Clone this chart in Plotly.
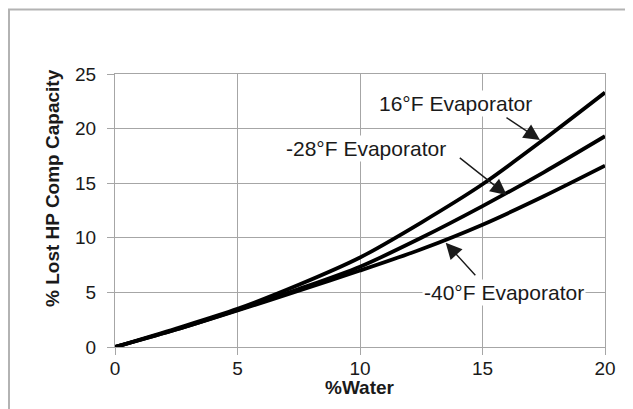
import plotly.graph_objects as go

water_pct = [0, 2.5, 5, 7.5, 10, 12.5, 15, 17.5, 20]
evap_16F = [0, 1.7, 3.5, 5.7, 8.2, 11.4, 14.9, 19.0, 23.3]
evap_m28F = [0, 1.6, 3.4, 5.3, 7.35, 10.0, 12.9, 16.0, 19.3]
evap_m40F = [0, 1.6, 3.35, 5.15, 7.0, 8.95, 11.2, 13.8, 16.6]

series = [("16°F Evaporator", evap_16F),
          ("-28°F Evaporator", evap_m28F),
          ("-40°F Evaporator", evap_m40F)]

x_ticks = [0, 5, 10, 15, 20]
y_ticks = [0, 5, 10, 15, 20, 25]

FONT = "Liberation Sans, Arial, sans-serif"
GRID = "#a6a6a6"
TXT = "#1a1a1a"

# figure is drawn 8px in from page edge (body margin)
W, H = 625, 401
L, R, T, B = 107, 28, 66, 62
PW, PH = W - L - R, H - T - B


def px_to_data(px, py):
    # page pixel -> data coords (plot area at page x 115..605, y 74..347)
    return (px - 115) / 24.5, (347 - py) / 10.92


def page_to_paper(px, py):
    fx, fy = px - 8, py - 8
    return (fx - L) / PW, (H - B - fy) / PH


fig = go.Figure()
for name, vals in series:
    fig.add_trace(go.Scatter(x=water_pct, y=vals, mode="lines", name=name,
                             line=dict(color="black", width=3.8, shape="spline", smoothing=0.8),
                             showlegend=False))

axis_common = dict(showgrid=True, gridcolor=GRID, gridwidth=1, zeroline=False,
                   showline=True, linecolor=GRID, linewidth=1, mirror=True,
                   ticks="outside", ticklen=7, tickcolor=GRID, tickwidth=1,
                   automargin=False,
                   tickfont=dict(family=FONT, size=19, color=TXT))

fig.update_xaxes(range=[0, 20], tickvals=x_ticks, ticklabelstandoff=-3, **axis_common)
fig.update_yaxes(range=[0, 25], tickvals=y_ticks, ticklabelstandoff=7, **axis_common)

ann_font = dict(family=FONT, size=21, color=TXT)
labels = [("16°F Evaporator", 455, 103), ("-28°F Evaporator", 366, 148), ("-40°F Evaporator", 504, 292)]
annotations = []
for text, px, py in labels:
    x, y = px_to_data(px, py)
    annotations.append(dict(text=text, xref="x", yref="y", x=x, y=y,
                            xanchor="center", yanchor="middle",
                            showarrow=False, font=ann_font, bgcolor="white", borderpad=1))
arrows = [((505, 116.7), (540, 140)),
          ((458.3, 156.7), (506.7, 195)),
          ((476.7, 276.7), (445.7, 242.7))]
for tail, head in arrows:
    tx, ty = px_to_data(*tail)
    hx, hy = px_to_data(*head)
    annotations.append(dict(text="", x=hx, y=hy, ax=tx, ay=ty, xref="x", yref="y",
                            axref="x", ayref="y", showarrow=True, arrowhead=2,
                            arrowsize=2.3, arrowwidth=1.4, arrowcolor=TXT))

# axis titles
xt, yt = page_to_paper(360, 387)
annotations.append(dict(text="<b>%Water</b>", xref="paper", yref="paper", x=xt, y=yt,
                        xanchor="center", yanchor="middle",
                        showarrow=False, font=dict(family=FONT, size=19, color=TXT)))
xt, yt = page_to_paper(52, 188)
annotations.append(dict(text="<b>% Lost HP Comp Capacity</b>", xref="paper", yref="paper",
                        x=xt, y=yt, textangle=-90, showarrow=False,
                        xanchor="center", yanchor="middle",
                        font=dict(family=FONT, size=19, color=TXT)))

bx0, by1 = page_to_paper(9, 9.5)
fig.update_layout(width=W, height=H, margin=dict(l=L, r=R, t=T, b=B),
                  paper_bgcolor="white", plot_bgcolor="white",
                  annotations=annotations,
                  shapes=[dict(type="rect", xref="paper", yref="paper",
                               x0=bx0, x1=1.3, y0=-0.4, y1=by1,
                               line=dict(color="#b3b3b3", width=2), layer="below")])

fig.write_html("out.html")
